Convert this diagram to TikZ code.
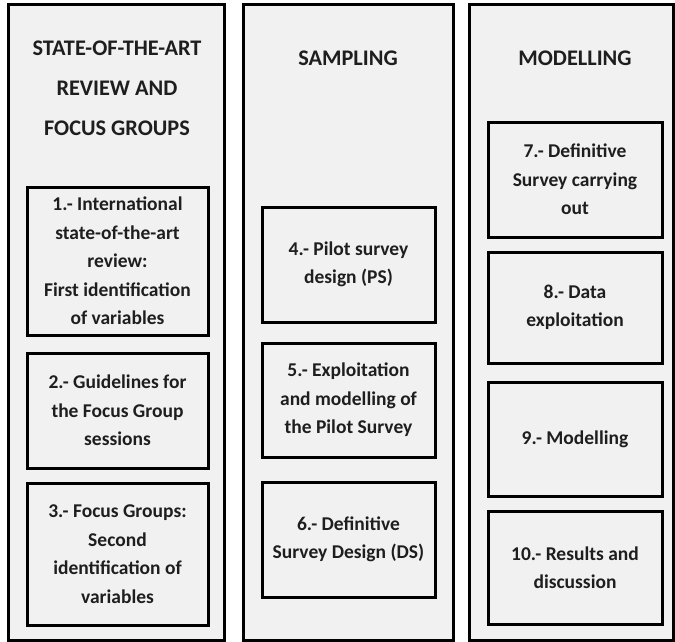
\documentclass[tikz,border=0pt]{standalone}
\usepackage{fontspec}
\setmainfont{Carlito}
\usetikzlibrary{shadows}
\definecolor{panelfill}{HTML}{F1F1F1}
\definecolor{inktext}{HTML}{1E1E1E}
\tikzset{
  colbox/.style={draw=black, line width=3pt, fill=panelfill, inner sep=0pt},
  stepbox/.style={draw=black, line width=3pt, fill=panelfill, inner sep=0pt,
    align=center, text=inktext, font=\bfseries\fontsize{19.5}{28.5}\selectfont,
    drop shadow={shadow xshift=1pt, shadow yshift=-1.5pt, opacity=0.35}},
  coltitle/.style={align=center, text=inktext, font=\bfseries\fontsize{22.3}{40}\selectfont, inner sep=0pt}
}
\begin{document}
\begin{tikzpicture}[x=1pt, y=-1pt]
\useasboundingbox (0,0) rectangle (675,641);
\fill[white] (0,0) rectangle (675,641);
% columns
\node[colbox, minimum width=216pt, minimum height=636pt] (c1) at (116,322) {};
\node[colbox, minimum width=210pt, minimum height=636pt] (c2) at (348,322) {};
\node[colbox, minimum width=204pt, minimum height=636pt] (c3) at (571,322) {};
% titles
\node[coltitle] (t1) at (117,88) {STATE-OF-THE-ART\\REVIEW AND\\FOCUS GROUPS};
\node[coltitle] (t2) at (348,58) {SAMPLING};
\node[coltitle] (t3) at (575,58) {MODELLING};
% left boxes
\node[stepbox, minimum width=181pt, minimum height=148pt] (b1) at (117.5,261) {1.- International\\state-of-the-art\\review:\\First identification\\of variables};
\node[stepbox, minimum width=181pt, minimum height=115pt] (b2) at (117.5,410.5) {2.- Guidelines for\\the Focus Group\\sessions};
\node[stepbox, minimum width=181pt, minimum height=142pt] (b3) at (117.5,554) {3.- Focus Groups:\\Second\\identification of\\variables};
% middle boxes
\node[stepbox, minimum width=173pt, minimum height=115pt] (b4) at (348.5,264.5) {4.- Pilot survey\\design (PS)};
\node[stepbox, minimum width=173pt, minimum height=114pt] (b5) at (348.5,400) {5.- Exploitation\\and modelling of\\the Pilot Survey};
\node[stepbox, minimum width=173pt, minimum height=115pt] (b6) at (348.5,539.5) {6.- Definitive\\Survey Design (DS)};
% right boxes
\node[stepbox, minimum width=174pt, minimum height=115pt] (b7) at (575,179.5) {7.- Definitive\\Survey carrying\\out};
\node[stepbox, minimum width=174pt, minimum height=111pt] (b8) at (575,307.5) {8.- Data\\exploitation};
\node[stepbox, minimum width=174pt, minimum height=114pt] (b9) at (575,439) {9.- Modelling};
\node[stepbox, minimum width=174pt, minimum height=113pt] (b10) at (575,567.5) {10.- Results and\\discussion};
\end{tikzpicture}
\end{document}
